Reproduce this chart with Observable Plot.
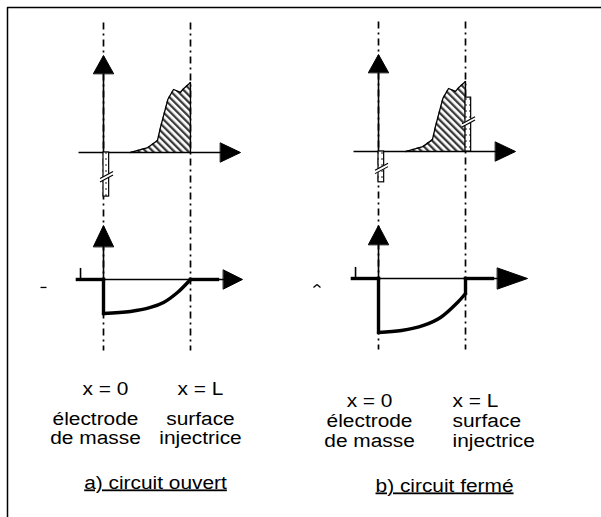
<!DOCTYPE html>
<html><head><meta charset="utf-8">
<script src="https://cdn.jsdelivr.net/npm/d3@7"></script>
<script src="https://cdn.jsdelivr.net/npm/@observablehq/plot@0.6"></script>
<style>
html,body{margin:0;padding:0;background:#fff;}
#chart svg{display:block;}
</style></head><body><div id="chart"></div>
<script>
// ================= DATA (x in units of L, y in arbitrary units) =================
const panels = ["a", "b"];
const captions = ["a) circuit ouvert", "b) circuit fermé"];
const positionLabels = ["x = 0", "x = L"];
const placeLabels = ["électrode\nde masse", "surface\ninjectrice"];

// space-charge density profile ρ(x) — identical in both cases
const rhoX = [0.31, 0.51, 0.62, 0.655, 0.74, 0.805, 0.885, 0.92, 1.0];
const rhoY = [0, 0.07, 0.17, 0.36, 0.76, 0.90, 0.86, 0.91, 1.0];

// surface (image) charges: panel, position (x/L), value
const surfPanel = ["a", "b", "b"];
const surfPos = [0, 0, 1];
const surfVal = [-0.63, -0.44, 0.77];

// field profile E(x), open circuit
const fieldXa = [0, 0.31, 0.54, 0.69, 0.85, 1.0];
const fieldYa = [-0.486, -0.457, -0.40, -0.329, -0.186, 0];
// field profile E(x), closed circuit
const fieldXb = [0, 0.264, 0.517, 0.713, 0.908, 1.0];
const fieldYb = [-0.771, -0.743, -0.671, -0.557, -0.343, -0.214];

// ================= LAYOUT =================
const W = 601, H = 517;
const pxPerL = 87, pxPerU = 70, originPx = [103, 152];
const xDomain = [-originPx[0] / pxPerL, (W - originPx[0]) / pxPerL];
const yDomain = [originPx[1] / pxPerU, (originPx[1] - H) / pxPerU];
const origin = {
  a: {top: [0, 0], bottom: [0, -1.814]},
  b: {top: [3.161, 0.014], bottom: [3.161, -1.8]}
};
const P = (p, r, x, y) => ({x: origin[p][r][0] + x, y: origin[p][r][1] + y});
const axisSpec = {
  a: {top: {x0: -0.287, upTip: 1.386, upBase: 1.129, rBase: 1.345, rTip: 1.575, hh: 0.136},
      bottom: {x0: -0.3, upTip: 0.771, upBase: 0.471, rBase: 1.379, rTip: 1.598, hh: 0.136}},
  b: {top: {x0: -0.287, upTip: 1.386, upBase: 1.129, rBase: 1.345, rTip: 1.575, hh: 0.136},
      bottom: {x0: -0.3, upTip: 0.757, upBase: 0.486, rBase: 1.368, rTip: 1.713, hh: 0.15}}
};
const hw = 0.115;
const textLayout = {
  a: {pos: [[0.023, -3.464, "middle"], [1.115, -3.464, "middle"]],
      place: [[-0.092, -4.171, "middle"], [1.115, -4.171, "middle"]],
      cap: [0.598, -4.8]},
  b: {pos: [[-0.103, -3.643, "middle"], [0.851, -3.643, "start"]],
      place: [[-0.103, -4.214, "middle"], [0.851, -4.214, "start"]],
      cap: [0.759, -4.857]}
};
// small stray strokes left of the field axes
const strayLayout = {
  a: [[-0.724, -0.114, -0.655, -0.114]],
  b: [[-0.747, -0.129, -0.707, -0.086], [-0.707, -0.086, -0.667, -0.129]]
};

// ================= BUILD MARK DATA =================
const links = [];      // thin black segments
const thick = [];      // thick segments
const dashLinks = [];
const triangles = [];
const hatchAreas = [];
const outlines = [];
const curves = [];
const rects = [];
const breaksW = [], breaksB = [];
const texts = [];
const strays = [];

panels.forEach((p, i) => {
  for (const gx of [0, 1]) {
    const a = P(p, "top", gx, 1.857), b = P(p, "top", gx, -2.83);
    dashLinks.push({x1: a.x, y1: a.y, x2: b.x, y2: b.y});
  }
  for (const r of ["top", "bottom"]) {
    const s = axisSpec[p][r];
    let a = P(p, r, s.x0, 0), b = P(p, r, s.rBase + 0.01, 0);
    links.push({x1: a.x, y1: a.y, x2: b.x, y2: b.y});
    a = P(p, r, 0, 0); b = P(p, r, 0, s.upBase - 0.01);
    links.push({x1: a.x, y1: a.y, x2: b.x, y2: b.y});
    triangles.push([P(p, r, -hw, s.upBase), P(p, r, 0, s.upTip), P(p, r, hw, s.upBase)]);
    triangles.push([P(p, r, s.rBase, -s.hh), P(p, r, s.rTip, 0), P(p, r, s.rBase, s.hh)]);
  }
  const pts = rhoX.map((x, k) => P(p, "top", x, rhoY[k]));
  pts.forEach(d => hatchAreas.push({x: d.x, y1: origin[p].top[1], y2: d.y, p}));
  outlines.push([...pts, P(p, "top", 1, 0)]);
  const fx = p === "a" ? fieldXa : fieldXb, fy = p === "a" ? fieldYa : fieldYb;
  curves.push(fx.map((x, k) => P(p, "bottom", x, fy[k])));
  const seg = (x1, y1, x2, y2) => {
    const a = P(p, "bottom", x1, y1), b = P(p, "bottom", x2, y2);
    thick.push({x1: a.x, y1: a.y, x2: b.x, y2: b.y});
  };
  seg(-0.3, 0, 0, 0);
  seg(0, 0, 0, fy[0]);
  seg(1, fy[fy.length - 1], 1, 0);
  seg(1, 0, 1.31, 0);
  const t1 = P(p, "bottom", -0.264, 0), t2 = P(p, "bottom", -0.264, 0.165);
  links.push({x1: t1.x, y1: t1.y, x2: t2.x, y2: t2.y});
  strayLayout[p].forEach(([x1, y1, x2, y2]) => {
    const a = P(p, "bottom", x1, y1), b = P(p, "bottom", x2, y2);
    strays.push({x1: a.x, y1: a.y, x2: b.x, y2: b.y});
  });
  const tl = textLayout[p];
  positionLabels.forEach((t, k) => {
    const q = P(p, "top", tl.pos[k][0], tl.pos[k][1]);
    texts.push({...q, text: t, anchor: tl.pos[k][2]});
  });
  placeLabels.forEach((t, k) => {
    const q = P(p, "top", tl.place[k][0], tl.place[k][1]);
    texts.push({...q, text: t, anchor: tl.place[k][2]});
  });
  const c = P(p, "top", tl.cap[0], tl.cap[1]);
  texts.push({...c, text: captions[i], anchor: "middle", cap: true});
});

surfPanel.forEach((p, k) => {
  const a = P(p, "top", surfPos[k], 0), b = P(p, "top", surfPos[k] + 0.065, surfVal[k]);
  rects.push({x1: a.x, x2: b.x, y1: a.y, y2: b.y});
  const c = P(p, "top", surfPos[k] + 0.035, surfVal[k] * 0.55);
  const dx = 0.075, dy = 0.05;
  breaksW.push({x1: c.x - dx, y1: c.y - dy, x2: c.x + dx, y2: c.y + dy});
  for (const o of [-0.024, 0.024])
    breaksB.push({x1: c.x - dx, y1: c.y - dy + o, x2: c.x + dx, y2: c.y + dy + o});
});

const frame = [{x: (7 - 103) / 87, y: yDomain[1]}, {x: (7 - 103) / 87, y: (152 - 7) / 70}, {x: xDomain[1], y: (152 - 7) / 70}];

const font = "Liberation Sans, Arial, Helvetica, sans-serif";
const marks = [
  Plot.line(frame, {x: "x", y: "y", stroke: "#000", strokeWidth: 1.5, curve: "linear"}),
  Plot.areaY(hatchAreas, {x: "x", y1: "y1", y2: "y2", z: "p", fill: "url(#hatch)", curve: "linear"}),
  Plot.link(dashLinks, {x1: "x1", y1: "y1", x2: "x2", y2: "y2", stroke: "#000", strokeWidth: 1.7, strokeDasharray: "7,4,2,4", strokeLinecap: "butt"}),
  Plot.link(links, {x1: "x1", y1: "y1", x2: "x2", y2: "y2", stroke: "#000", strokeWidth: 1.6, strokeLinecap: "butt"}),
  Plot.link(strays, {x1: "x1", y1: "y1", x2: "x2", y2: "y2", stroke: "#000", strokeWidth: 1.3}),
  ...outlines.map(o => Plot.line(o, {x: "x", y: "y", stroke: "#000", strokeWidth: 1.3, curve: "linear"})),
  Plot.rect(rects, {x1: "x1", x2: "x2", y1: "y1", y2: "y2", fill: "url(#dots)", stroke: "#000", strokeWidth: 1.2}),
  Plot.link(breaksW, {x1: "x1", y1: "y1", x2: "x2", y2: "y2", stroke: "#fff", strokeWidth: 3.5, strokeLinecap: "butt"}),
  Plot.link(breaksB, {x1: "x1", y1: "y1", x2: "x2", y2: "y2", stroke: "#000", strokeWidth: 1.1}),
  ...triangles.map(t => Plot.line(t, {x: "x", y: "y", fill: "#000", stroke: "#000", strokeWidth: 1, curve: "linear-closed"})),
  ...curves.map(c => Plot.line(c, {x: "x", y: "y", stroke: "#000", strokeWidth: 3.4, curve: "catmull-rom"})),
  Plot.link(thick, {x1: "x1", y1: "y1", x2: "x2", y2: "y2", stroke: "#000", strokeWidth: 3.4, strokeLinecap: "square"}),
  Plot.text(texts.filter(d => d.anchor === "middle"), {x: "x", y: "y", text: "text", textAnchor: "middle", lineAnchor: "bottom", lineHeight: 1.11, fontSize: 18, fontFamily: font, fill: "#000"}),
  Plot.text(texts.filter(d => d.anchor === "start"), {x: "x", y: "y", text: "text", textAnchor: "start", lineAnchor: "bottom", lineHeight: 1.11, fontSize: 18, fontFamily: font, fill: "#000"})
];

const svg = Plot.plot({
  width: W, height: H, margin: 0,
  x: {domain: xDomain, range: [0, W]},
  y: {domain: yDomain, range: [0, H]},
  axis: null,
  style: {background: "#fff", overflow: "visible"},
  marks
});

const defs = d3.select(svg).insert("defs", ":first-child");
const hatch = defs.append("pattern").attr("id", "hatch").attr("patternUnits", "userSpaceOnUse")
  .attr("width", 5).attr("height", 5).attr("patternTransform", "rotate(-45)");
hatch.append("rect").attr("width", 5).attr("height", 5).attr("fill", "#fff");
hatch.append("rect").attr("width", 2.3).attr("height", 5).attr("fill", "#3a3a3a");
const dots = defs.append("pattern").attr("id", "dots").attr("patternUnits", "userSpaceOnUse")
  .attr("width", 4).attr("height", 6);
dots.append("rect").attr("width", 4).attr("height", 6).attr("fill", "#fff");
dots.append("circle").attr("cx", 2).attr("cy", 3).attr("r", 0.8).attr("fill", "#000");

d3.select(svg).selectAll("text").each(function () {
  const t = this.getAttribute("transform");
  if (t) this.setAttribute("transform", t + " scale(1.16,1)");
  if (captions.includes(this.textContent)) this.setAttribute("text-decoration", "underline");
});

document.getElementById("chart").appendChild(svg);
</script></body></html>
